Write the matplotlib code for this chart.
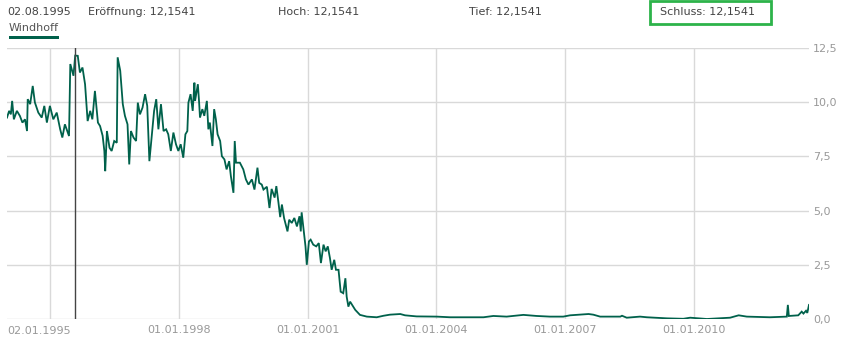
import numpy as np
import matplotlib
matplotlib.use("Agg")
import matplotlib.pyplot as plt
from matplotlib.patches import Rectangle

# kurs windhoff (zeit in dezimaljahren)
jahr = [1993.99, 1994.04, 1994.08, 1994.11, 1994.15, 1994.22, 1994.29, 1994.35, 1994.41, 1994.457,
        1994.473, 1994.53, 1994.59, 1994.64, 1994.72, 1994.80, 1994.86, 1994.92, 1994.99, 1995.07,
        1995.15, 1995.23, 1995.28, 1995.34, 1995.436, 1995.466, 1995.54, 1995.58, 1995.64, 1995.69,
        1995.75, 1995.81, 1995.87, 1995.93, 1995.98, 1996.04, 1996.11, 1996.16, 1996.22, 1996.26,
        1996.28, 1996.32, 1996.38, 1996.43, 1996.49, 1996.55, 1996.57, 1996.63, 1996.69, 1996.74,
        1996.80, 1996.84, 1996.88, 1996.94, 1997.00, 1997.04, 1997.09, 1997.15, 1997.21, 1997.26,
        1997.31, 1997.37, 1997.42, 1997.47, 1997.52, 1997.58, 1997.64, 1997.70, 1997.75, 1997.81,
        1997.87, 1997.93, 1997.985, 1998.04, 1998.10, 1998.15, 1998.195, 1998.22, 1998.27, 1998.32,
        1998.36, 1998.375, 1998.44, 1998.47, 1998.49, 1998.545, 1998.59, 1998.65, 1998.685, 1998.72,
        1998.78, 1998.82, 1998.86, 1998.90, 1998.96, 1999.00, 1999.06, 1999.11, 1999.17, 1999.21,
        1999.27, 1999.30, 1999.33, 1999.42, 1999.50, 1999.56, 1999.62, 1999.70, 1999.76, 1999.83,
        1999.87, 1999.93, 1999.97, 2000.05, 2000.11, 2000.16, 2000.23, 2000.27, 2000.32, 2000.36,
        2000.40, 2000.45, 2000.53, 2000.57, 2000.63, 2000.69, 2000.75, 2000.81, 2000.84, 2000.86,
        2000.92, 2000.95, 2000.98, 2001.03, 2001.07, 2001.13, 2001.20, 2001.26, 2001.31, 2001.37,
        2001.42, 2001.47, 2001.52, 2001.56, 2001.62, 2001.66, 2001.72, 2001.77, 2001.83, 2001.88,
        2001.91, 2001.95, 2001.99, 2002.11, 2002.22, 2002.38, 2002.61, 2002.77, 2002.92, 2003.16,
        2003.27, 2003.54, 2004.01, 2004.32, 2005.10, 2005.33, 2005.64, 2006.03, 2006.34, 2006.65,
        2006.96, 2007.12, 2007.55, 2007.66, 2007.82, 2008.29, 2008.33, 2008.44, 2008.75, 2008.91,
        2009.38, 2009.76, 2009.92, 2010.31, 2010.85, 2011.05, 2011.24, 2011.78, 2012.173, 2012.197,
        2012.22, 2012.44, 2012.52, 2012.56, 2012.62, 2012.65, 2012.69]
kurs = [9.29, 9.60, 9.44, 10.06, 9.21, 9.60, 9.37, 9.06, 9.21, 8.67,
        10.14, 9.91, 10.75, 9.99, 9.52, 9.29, 9.83, 9.06, 9.83, 9.21,
        9.52, 8.75, 8.37, 8.98, 8.44, 11.76, 11.22, 12.15, 12.14, 11.37,
        11.60, 10.83, 9.13, 9.60, 9.21, 10.52, 9.06, 8.90, 8.45, 7.75,
        6.82, 8.67, 7.90, 7.75, 8.21, 8.13, 12.07, 11.45, 9.91, 9.37,
        8.98, 7.13, 8.67, 8.37, 8.21, 9.98, 9.44, 9.75, 10.37, 9.83,
        7.28, 8.52, 9.60, 10.14, 8.75, 9.91, 8.67, 8.75, 8.52, 7.75,
        8.60, 8.06, 7.75, 8.06, 7.44, 8.52, 8.67, 9.98, 10.37, 9.60,
        10.90, 10.06, 10.83, 9.98, 9.29, 9.68, 9.37, 10.06, 8.75, 9.06,
        7.98, 9.68, 9.21, 8.52, 8.21, 7.51, 7.36, 6.90, 7.28, 6.59,
        5.82, 8.21, 7.21, 7.21, 6.90, 6.44, 6.20, 6.44, 5.97, 6.98,
        6.28, 6.20, 5.97, 6.10, 5.12, 6.00, 5.60, 6.13, 5.36, 4.70,
        5.28, 4.66, 4.04, 4.58, 4.43, 4.66, 4.27, 4.74, 4.04, 4.92,
        3.89, 3.35, 2.50, 3.58, 3.66, 3.43, 3.35, 3.50, 2.58, 3.43,
        3.12, 3.35, 2.81, 2.27, 2.73, 2.27, 2.27, 1.26, 1.19, 1.88,
        1.03, 0.57, 0.80, 0.42, 0.19, 0.11, 0.08, 0.15, 0.20, 0.23,
        0.17, 0.12, 0.11, 0.08, 0.08, 0.14, 0.11, 0.19, 0.14, 0.11,
        0.11, 0.17, 0.23, 0.20, 0.11, 0.11, 0.15, 0.06, 0.11, 0.08,
        0.03, 0.01, 0.06, 0.00, 0.06, 0.17, 0.11, 0.08, 0.11, 0.65,
        0.14, 0.17, 0.34, 0.25, 0.38, 0.28, 0.65]

xticks = [1995.0, 1998.0, 2001.0, 2004.0, 2007.0, 2010.0]
xtick_labels = ["02.01.1995", "01.01.1998", "01.01.2001", "01.01.2004", "01.01.2007", "01.01.2010"]
yticks = [0.0, 2.5, 5.0, 7.5, 10.0, 12.5]

cursor = 1995.58  # 02.08.1995
header = [("02.08.1995", 7), ("Eröffnung: 12,1541", 88), ("Hoch: 12,1541", 278),
          ("Tief: 12,1541", 469), ("Schluss: 12,1541", 660)]

green = "#00614b"
grid_c = "#d9d9d9"
W, H = 849, 354

fig = plt.figure(figsize=(W / 100, H / 100), dpi=100)
ax = fig.add_axes([7 / W, (H - 319) / H, 802 / W, 271 / H])

ax.plot(jahr, kurs, color=green, lw=1.3, solid_joinstyle="miter", zorder=3)
ax.axvline(cursor, color="#444444", lw=1, zorder=4)

ax.set_xlim(1993.99, 2012.69)
ax.set_ylim(0, 12.5)
for s in ax.spines.values():
    s.set_visible(False)

ax.set_xticks(xticks)
ax.set_xticklabels([""] + xtick_labels[1:])
ax.set_yticks(yticks)
ax.set_yticklabels([("%.1f" % v).replace(".", ",") for v in yticks])
ax.yaxis.tick_right()
ax.tick_params(length=0, labelsize=8, labelcolor="#999999")
ax.tick_params(axis="x", pad=4)
ax.tick_params(axis="y", pad=3)
ax.grid(True, color=grid_c, lw=1)
ax.set_axisbelow(True)
ax.text(0, -12 / 271, xtick_labels[0], transform=ax.transAxes, ha="left", va="center",
        fontsize=8, color="#999999")

# kopfzeile
for txt, px in header:
    fig.text(px / W, 1 - 12 / H, txt, ha="left", va="center", fontsize=8, color="#444444")
fig.patches.append(Rectangle((650 / W, 1 - 24 / H), 121 / W, 23 / H, transform=fig.transFigure,
                             fill=False, edgecolor="#2db34a", lw=2))
fig.text(9 / W, 1 - 28 / H, "Windhoff", ha="left", va="center", fontsize=8, color="#555555")
fig.patches.append(Rectangle((9 / W, 1 - 39 / H), 50 / W, 2.5 / H, transform=fig.transFigure,
                             color=green, lw=0))

fig.savefig("out.png", dpi=100)
